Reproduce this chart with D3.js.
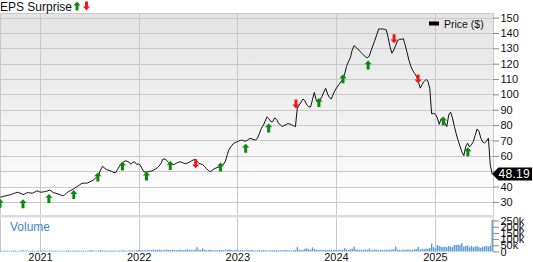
<!DOCTYPE html>
<html><head><meta charset="utf-8">
<script src="https://cdn.jsdelivr.net/npm/d3@7"></script>
<style>
body{margin:0;background:#fff}
svg{display:block;font-family:"Liberation Sans",Arial,sans-serif}
</style>
</head><body>
<svg id="c" width="533" height="262"></svg>
<script>
// ---------- DATA ----------
const weekStart = "2020-08-07"; // first weekly close
const prices = [
33.1,33.4,33.7,34.0,34.3,34.6,35.0,35.4,35.9,36.3,35.9,35.5,34.8,35.2,36.0,36.0,35.8,35.7,36.2,37.0,37.1,36.4,36.4,36.6,36.8,37.2,
37.7,37.1,36.1,35.8,35.4,35.0,34.5,34.0,34.6,35.8,36.7,37.3,37.9,38.7,39.5,40.3,41.2,42.0,42.2,42.2,42.3,42.9,43.5,44.1,45.1,46.4,
47.6,50.8,53.2,52.2,51.2,50.7,50.4,49.8,49.2,49.1,51.2,53.3,54.7,55.8,56.8,56.5,56.0,54.5,55.8,56.1,54.5,54.7,54.0,51.5,49.5,49.5,
49.6,49.9,50.1,50.7,51.4,52.2,53.4,55.2,57.9,58.0,57.0,55.8,54.9,54.4,54.4,55.2,55.8,56.1,55.8,55.2,54.9,55.4,55.9,56.7,57.3,57.8,
56.5,55.1,54.7,54.3,53.0,51.7,50.5,49.7,50.6,51.5,52.1,52.5,52.8,53.0,54.6,56.5,60.9,64.4,66.1,67.7,68.6,69.1,69.7,70.1,70.2,69.6,
69.7,70.6,71.4,71.0,70.5,70.3,71.6,74.7,77.9,79.8,82.6,85.4,84.1,82.3,82.2,84.7,83.8,81.4,80.1,79.1,79.7,80.3,81.0,80.8,80.2,79.6,
79.0,91.1,93.1,95.1,97.0,95.9,93.2,92.0,91.8,96.5,101.3,96.3,95.0,96.3,98.6,101.5,104.0,100.3,97.9,97.1,100.2,102.8,104.7,106.5,108.1,109.8,
113.2,118.2,121.2,123.8,128.8,131.8,130.6,129.6,128.1,126.9,125.7,124.5,123.9,124.8,128.5,132.0,135.3,138.9,142.6,142.6,142.6,142.4,142.0,137.2,131.0,126.8,
129.0,131.9,135.0,135.9,135.8,136.4,132.2,127.3,122.3,118.3,115.6,113.6,111.8,108.0,104.1,106.6,108.4,109.7,108.8,104.0,87.3,87.7,87.1,84.7,80.5,84.1,
83.9,81.5,79.0,86.6,88.4,84.7,79.2,74.3,70.0,66.3,62.6,60.1,66.0,68.3,65.8,67.1,69.2,73.3,77.5,76.0,71.5,69.0,68.4,69.6,71.5,54.0,48.19
];
const volumesK = [
6,5,7,6,8,5,6,9,7,6,5,8,10,7,6,5,6,8,6,5,7,6,9,8,7,6,
7,9,6,8,7,6,5,7,6,8,10,7,6,8,7,9,6,7,8,6,7,9,12,8,7,6,
8,11,9,7,8,6,7,8,9,7,6,8,7,10,8,6,7,9,8,7,10,13,9,12,10,11,
14,10,12,16,11,13,15,12,10,13,16,12,11,14,12,10,13,15,11,12,14,18,13,11,12,16,
35,14,12,25,13,10,12,14,11,9,12,10,13,11,12,10,14,18,12,11,13,10,9,12,11,10,
9,11,10,12,9,8,10,11,9,12,10,8,9,11,10,9,12,8,10,9,11,13,10,9,8,10,
12,35,15,12,14,22,25,18,14,33,20,13,12,14,11,12,13,10,12,14,11,13,12,15,12,14,
28,16,14,18,22,40,18,15,13,14,12,16,14,24,13,12,15,14,11,13,14,12,15,13,14,16,
18,40,15,13,12,14,13,16,15,14,13,18,20,36,17,22,19,24,20,28,65,35,27,53,45,40,
35,40,35,45,40,35,53,53,55,53,67,40,45,48,35,45,35,40,45,35,30,38,42,45,40,48,255
];
const epsDates = ["2020-08-06","2020-10-30","2021-02-03","2021-05-06","2021-08-03","2021-11-02","2022-01-30","2022-04-28","2022-07-31","2022-10-31",
                  "2023-02-01","2023-04-27","2023-08-06","2023-10-30","2024-01-27","2024-04-29","2024-08-03","2024-10-31","2025-02-01","2025-05-03"];
const epsValues = [29.2,28.9,32.3,34.8,46.3,53.4,46.9,53.8,54.8,52.8,65.0,78.2,93.8,94.8,110.2,119.2,136.2,110.1,82.7,62.6];
const epsTypes = ["beat","beat","beat","beat","beat","beat","beat","beat","miss","beat",
                  "beat","beat","miss","beat","beat","beat","miss","miss","beat","beat"];
const priceTicks = [30,40,50,60,70,80,90,100,110,120,130,140,150];
const hiddenPriceLabels = [50]; // covered by the last-price tag in the reference
const volumeTicksK = [0,50,100,150,200,250];
const yearTicks = ["2021-01-01","2022-01-01","2023-01-01","2024-01-01","2025-01-01"];
const lastPriceLabel = "48.19";
const titleText = "EPS Surprise";
const legendText = "Price ($)";
const volumeText = "Volume";

// ---------- LAYOUT ----------
const parse = d3.timeParse("%Y-%m-%d");
const start = parse(weekStart);
const dates = prices.map((_, i) => d3.timeDay.offset(start, 7 * i));
const plotL = 0, plotR = 493, pTop = 13, pBot = 215, vTop = 217.5, vBot = 251.5;

const x = d3.scaleTime().domain([parse("2020-08-06"), parse("2025-08-04")]).range([plotL, plotR]);
const y = d3.scaleLinear().domain([21.5, 153]).range([pBot, pTop]);
const yv = d3.scaleLinear().domain([0, 274]).range([vBot, vTop]);

const svg = d3.select("#c");
const defs = svg.append("defs");
const grad = defs.append("linearGradient").attr("id", "bg").attr("x1", 0).attr("y1", 0).attr("x2", 0).attr("y2", 1);
grad.append("stop").attr("offset", "0%").attr("stop-color", "#e3e3e3");
grad.append("stop").attr("offset", "100%").attr("stop-color", "#ffffff");
defs.append("clipPath").attr("id", "clipP").append("rect")
  .attr("x", plotL).attr("y", pTop).attr("width", plotR - plotL).attr("height", pBot - pTop);

// panels
svg.append("rect").attr("x", plotL).attr("y", pTop).attr("width", plotR - plotL).attr("height", pBot - pTop).attr("fill", "url(#bg)");
svg.append("rect").attr("x", plotL).attr("y", vTop).attr("width", plotR - plotL).attr("height", vBot - vTop).attr("fill", "#fff");

const grid = svg.append("g").attr("stroke", "#c9c9c9").attr("stroke-width", 1).attr("shape-rendering", "crispEdges");
grid.selectAll(".h").data(priceTicks).join("line")
  .attr("x1", plotL).attr("x2", plotR)
  .attr("y1", d => Math.round(y(d)) + 0.5).attr("y2", d => Math.round(y(d)) + 0.5);
grid.selectAll(".v").data(yearTicks).join("line")
  .attr("x1", d => Math.round(x(parse(d))) + 0.5).attr("x2", d => Math.round(x(parse(d))) + 0.5)
  .attr("y1", pTop).attr("y2", vBot);
// borders
grid.append("line").attr("x1", plotL).attr("x2", plotR).attr("y1", pTop + 0.5).attr("y2", pTop + 0.5);
grid.append("line").attr("x1", plotL + 0.5).attr("x2", plotL + 0.5).attr("y1", pTop).attr("y2", vBot);
grid.append("line").attr("x1", plotR + 0.5).attr("x2", plotR + 0.5).attr("y1", pTop).attr("y2", vBot);
// separator
svg.append("rect").attr("x", plotL).attr("y", pBot).attr("width", plotR - plotL + 1).attr("height", vTop - pBot).attr("fill", "#dcdcdc");

// volume bars
svg.append("g").attr("fill", "#5b9bd5").selectAll("rect").data(volumesK).join("rect")
  .attr("x", (d, i) => x(dates[i]) - 0.7).attr("width", 1.4)
  .attr("y", d => yv(d)).attr("height", d => vBot - yv(d));

// price line
svg.append("path").datum(prices).attr("clip-path", "url(#clipP)")
  .attr("fill", "none").attr("stroke", "#111").attr("stroke-width", 1).attr("stroke-linejoin", "round")
  .attr("d", d3.line().x((d, i) => x(dates[i])).y(d => y(d)));

// EPS arrows
const arrowUp = "M0,-4.5L3.6,-0.6L1.5,-0.6L1.5,4.5L-1.5,4.5L-1.5,-0.6L-3.6,-0.6Z";
svg.append("g").attr("clip-path", "url(#clipP)").selectAll("path").data(epsDates).join("path")
  .attr("d", arrowUp)
  .attr("fill", (d, i) => epsTypes[i] === "beat" ? "#0a8a0a" : "#f01818")
  .attr("transform", (d, i) => `translate(${x(parse(d))},${y(epsValues[i])})` + (epsTypes[i] === "miss" ? " scale(1,-1)" : ""));

// price axis
const ay = svg.append("g").attr("transform", `translate(${plotR},0)`)
  .call(d3.axisRight(y).tickValues(priceTicks).tickSize(6).tickPadding(1.5)
    .tickFormat(d => hiddenPriceLabels.includes(d) ? "" : d3.format("d")(d)));
ay.select(".domain").remove();
ay.selectAll(".tick line").attr("stroke", "#888");
ay.selectAll("text").attr("font-size", 11).attr("fill", "#111").attr("font-family", "Liberation Sans, Arial, sans-serif");

// volume axis
const av = svg.append("g").attr("transform", `translate(${plotR},0)`)
  .call(d3.axisRight(yv).tickValues(volumeTicksK).tickSize(6).tickPadding(1.5).tickFormat(d => d === 0 ? "0" : d + "k"));
av.select(".domain").remove();
av.selectAll(".tick line").attr("stroke", "#888");
av.selectAll("text").attr("font-size", 11).attr("fill", "#111").attr("font-family", "Liberation Sans, Arial, sans-serif");

// year axis
const ax = svg.append("g").attr("transform", `translate(0,${vBot})`)
  .call(d3.axisBottom(x).tickValues(yearTicks.map(parse)).tickSize(0).tickPadding(2).tickFormat(d3.timeFormat("%Y")));
ax.select(".domain").remove();
ax.selectAll("text").attr("font-size", 11).attr("fill", "#111").attr("font-family", "Liberation Sans, Arial, sans-serif");

// last price label
const yl = y(prices[prices.length - 1]);
svg.append("path").attr("fill", "#000")
  .attr("d", `M${plotR - 1},${yl}L${plotR + 5.5},${yl - 6.5}L532,${yl - 6.5}L532,${yl + 6.5}L${plotR + 5.5},${yl + 6.5}Z`);
svg.append("text").attr("x", 498.5).attr("y", yl).attr("dy", "0.36em").attr("fill", "#fff").attr("font-size", 12)
  .attr("letter-spacing", 0.3).text(lastPriceLabel);

// title & legends
svg.append("text").attr("x", 0).attr("y", 10.5).attr("font-size", 12).attr("fill", "#111").text(titleText);
svg.append("path").attr("d", arrowUp).attr("fill", "#0a8a0a").attr("transform", "translate(77,6)");
svg.append("path").attr("d", arrowUp).attr("fill", "#f01818").attr("transform", "translate(86.5,6) scale(1,-1)");
svg.append("rect").attr("x", 429).attr("y", 21.5).attr("width", 10).attr("height", 4).attr("fill", "#000");
svg.append("text").attr("x", 444).attr("y", 27.5).attr("font-size", 10.5).attr("fill", "#111").text(legendText);
svg.append("text").attr("x", 10).attr("y", 230.5).attr("font-size", 12).attr("fill", "#3c87c8").text(volumeText);
</script>
</body></html>
